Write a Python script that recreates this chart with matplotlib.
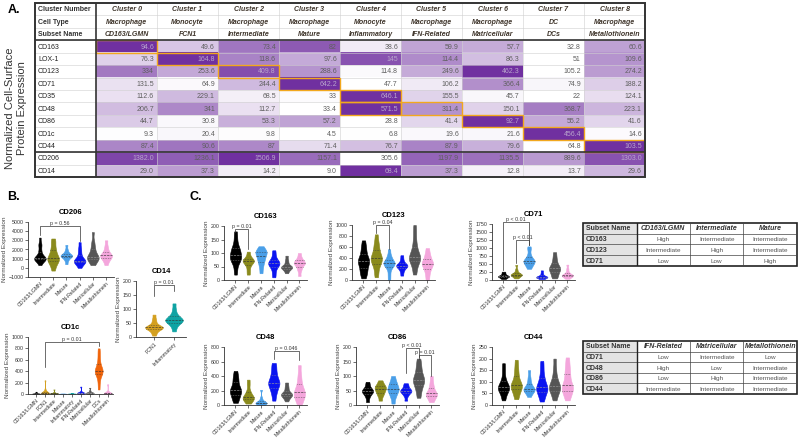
#Purpose: recreate the cell-surface protein figure (heatmap table + violin panels)

import numpy as np
import matplotlib.pyplot as plt
from matplotlib.colors import LinearSegmentedColormap, to_rgb
from matplotlib.patches import Rectangle

plt.rcParams['font.family'] = ['Liberation Sans', 'DejaVu Sans']

#---------------- data: panel A ----------------
markers = ['CD163', 'LOX-1', 'CD123', 'CD71', 'CD35', 'CD48', 'CD86', 'CD1c', 'CD44', 'CD206', 'CD14']
clusters = ['Cluster 0', 'Cluster 1', 'Cluster 2', 'Cluster 3', 'Cluster 4',
            'Cluster 5', 'Cluster 6', 'Cluster 7', 'Cluster 8']
cell_types = ['Macrophage', 'Monocyte', 'Macrophage', 'Macrophage', 'Monocyte',
              'Macrophage', 'Macrophage', 'DC', 'Macrophage']
subset_names = ['CD163/LGMN', 'FCN1', 'Intermediate', 'Mature', 'Inflammatory',
                'IFN-Related', 'Matricellular', 'DCs', 'Metallothionein']
expr = [
    [94.6, 49.6, 73.4, 82, 38.6, 59.9, 57.7, 32.8, 60.6],
    [76.3, 164.8, 118.6, 97.6, 145, 114.4, 86.3, 51, 109.6],
    [334, 253.6, 409.8, 288.6, 114.8, 249.6, 462.3, 105.2, 274.2],
    [131.5, 64.9, 244.4, 642.2, 47.7, 106.2, 366.4, 74.9, 188.2],
    [112.6, 229.1, 68.5, 33, 646.1, 155.5, 45.7, 22, 124.1],
    [206.7, 341, 112.7, 33.4, 571.5, 311.4, 150.1, 368.7, 223.1],
    [44.7, 30.8, 53.3, 57.2, 28.8, 41.4, 92.7, 55.2, 41.6],
    [9.3, 20.4, 9.8, 4.5, 6.8, 19.6, 21.6, 456.4, 14.6],
    [87.4, 90.6, 87, 71.4, 76.7, 87.9, 79.6, 64.8, 103.5],
    [1382.0, 1236.1, 1506.9, 1157.1, 305.6, 1197.9, 1135.5, 889.6, 1303.0],
    [29.0, 37.3, 14.2, 9.0, 68.4, 37.3, 12.8, 13.7, 29.6],
]
# (row, column) of the outlined marker cells
highlight = [(0, 0), (1, 1), (2, 2), (3, 3), (4, 4), (5, 4), (5, 5), (6, 6), (7, 7), (8, 8)]

#---------------- data: violin panels ----------------
mac_groups = ['CD163/LGMN', 'Intermediate', 'Mature', 'IFN-Related', 'Matricellular', 'Metallothionein']
mono_groups = ['FCN1', 'Inflammatory']
all_groups = ['CD163/LGMN', 'FCN1', 'Intermediate', 'Mature', 'Inflammatory',
              'IFN-Related', 'Matricellular', 'DCs', 'Metallothionein']

cd206_vals = [
    [300, 600, 800, 900, 950, 1000, 1000, 1050, 1100, 1200, 1400, 1700, 2000, 2500, 2600, 3300],
    [-300, 200, 500, 700, 900, 1000, 1100, 1300, 1600, 1900, 2300, 2800, 3200],
    [400, 800, 1000, 1200, 1250, 1300, 1350, 1400, 1500, 1700, 2000, 2500],
    [0, 300, 500, 600, 700, 750, 800, 900, 1100, 1400, 1800, 2200, 2800],
    [300, 600, 800, 1000, 1100, 1150, 1200, 1400, 1700, 2000, 2400, 2900, 3900],
    [300, 700, 900, 1100, 1200, 1300, 1400, 1500, 1700, 2000, 2400, 3000],
]
cd14_vals = [
    [5, 15, 22, 28, 30, 32, 34, 35, 37, 40, 45, 55, 65, 80],
    [20, 35, 45, 50, 55, 58, 60, 62, 65, 70, 75, 85, 100, 120],
]
cd1c_vals = [
    [0, 2, 4, 5, 6, 8, 10, 15, 25, 40],
    [0, 5, 10, 12, 15, 18, 20, 25, 40, 80, 240],
    [0, 3, 5, 8, 10, 12, 15, 30, 80],
    [0, 2, 3, 4, 5, 6, 8, 10],
    [0, 3, 5, 6, 7, 8, 10, 20],
    [0, 5, 10, 15, 18, 20, 25, 40, 130],
    [0, 5, 10, 15, 20, 22, 25, 35, 60, 110],
    [80, 200, 300, 350, 380, 400, 410, 430, 460, 520, 600, 700, 800],
    [0, 5, 10, 12, 15, 20, 40, 170],
]
cd163_vals = [
    [20, 40, 60, 70, 75, 80, 85, 90, 95, 105, 110, 115, 125, 140, 160, 180],
    [20, 35, 50, 60, 65, 70, 72, 75, 80, 90, 105],
    [25, 45, 60, 70, 80, 85, 95, 100, 103, 108, 115, 125],
    [10, 25, 40, 50, 55, 60, 63, 67, 72, 80, 95, 110],
    [25, 35, 40, 45, 47, 48, 50, 55, 65, 75, 90],
    [15, 35, 45, 55, 60, 62, 65, 70, 75, 85, 100],
]
cd123_vals = [
    [30, 100, 150, 200, 250, 300, 330, 350, 380, 420, 480, 550, 620, 720],
    [50, 150, 250, 300, 350, 380, 400, 430, 480, 550, 620, 700, 830],
    [0, 100, 200, 250, 280, 300, 310, 320, 350, 400, 450, 560],
    [80, 150, 200, 230, 250, 260, 270, 290, 320, 380, 450],
    [100, 200, 300, 350, 380, 400, 420, 460, 520, 600, 700, 850, 1000],
    [0, 100, 180, 230, 280, 300, 320, 360, 420, 480, 580],
]
cd71_vals = [
    [30, 60, 80, 100, 110, 120, 130, 150, 180, 220, 260],
    [50, 90, 120, 150, 160, 170, 180, 200, 250, 330, 470],
    [350, 430, 480, 530, 560, 590, 610, 650, 700, 800, 950, 1050],
    [30, 50, 70, 85, 95, 100, 110, 130, 170, 230, 300],
    [50, 120, 200, 260, 320, 350, 380, 430, 500, 600, 720, 870],
    [40, 80, 110, 130, 145, 150, 160, 190, 250, 350, 480],
]
cd48_vals = [
    [30, 80, 120, 150, 180, 200, 220, 250, 300, 350, 400, 470],
    [20, 50, 70, 90, 100, 110, 130, 160, 200, 280, 350],
    [0, 10, 20, 25, 30, 35, 40, 60, 100, 210],
    [60, 150, 200, 250, 280, 300, 320, 350, 400, 450, 520, 580],
    [50, 90, 110, 130, 140, 150, 160, 180, 220, 260, 310],
    [0, 60, 100, 130, 160, 180, 210, 260, 330, 420, 550],
]
cd86_vals = [
    [10, 25, 35, 40, 45, 48, 50, 55, 60, 70, 80],
    [15, 30, 38, 45, 50, 55, 60, 63, 68, 75, 85],
    [5, 25, 35, 45, 50, 55, 60, 68, 75, 85, 100],
    [15, 30, 38, 43, 46, 48, 52, 55, 60, 68, 75],
    [25, 45, 60, 70, 80, 85, 90, 100, 110, 125, 140, 160],
    [10, 20, 28, 33, 37, 40, 45, 55, 65, 80, 100],
]
cd44_vals = [
    [20, 40, 55, 65, 70, 75, 80, 90, 100, 120, 150, 180],
    [25, 45, 60, 70, 80, 85, 90, 100, 120, 140, 165, 195],
    [35, 50, 58, 63, 67, 70, 75, 85, 100, 120, 150],
    [15, 35, 50, 60, 70, 75, 80, 95, 110, 130, 160, 190],
    [20, 40, 55, 65, 72, 78, 85, 95, 110, 130, 160, 200],
    [20, 40, 55, 65, 75, 80, 90, 110, 130, 150, 175, 205],
]

# significance brackets: (group i, group j, bracket height, left leg end, right leg end, text)
cd206_p = [(0, 3, 4600, 3600, 2900, 'p = 0.56')]
cd14_p = [(0, 1, 185, 145, 165, 'p = 0.01')]
cd1c_p = [(1, 7, 920, 470, 840, 'p = 0.01')]
cd163_p = [(0, 1, 190, 178, 115, 'p = 0.01')]
cd123_p = [(1, 2, 1000, 850, 570, 'p = 0.04')]
cd71_p = [(0, 2, 1800, 300, 1100, 'p < 0.01'), (1, 2, 1250, 520, 1100, 'p < 0.01')]
cd48_p = [(3, 5, 740, 640, 620, 'p = 0.046')]
cd86_p = [(3, 4, 195, 110, 160, 'p < 0.01'), (4, 5, 172, 165, 100, 'p = 0.01')]
cd44_p = []

# subset summary tables
tab1_header = ['Subset Name', 'CD163/LGMN', 'Intermediate', 'Mature']
tab1_rows = ['CD163', 'CD123', 'CD71']
tab1_body = [['High', 'Intermediate', 'Intermediate'],
             ['Intermediate', 'High', 'Intermediate'],
             ['Low', 'Low', 'High']]
tab2_header = ['Subset Name', 'IFN-Related', 'Matricellular', 'Metallothionein']
tab2_rows = ['CD71', 'CD48', 'CD86', 'CD44']
tab2_body = [['Low', 'Intermediate', 'Low'],
             ['High', 'Low', 'Intermediate'],
             ['Low', 'High', 'Intermediate'],
             ['Intermediate', 'Intermediate', 'Intermediate']]

#---------------- colours ----------------
col = {'CD163/LGMN': '#000000', 'Intermediate': '#8a8a1c', 'Mature': '#4a9fe8',
       'IFN-Related': '#0a14f0', 'Matricellular': '#555555', 'Metallothionein': '#f4a6dc',
       'FCN1': '#d4a020', 'Inflammatory': '#0fa3a3', 'DCs': '#f0640a'}
purple = LinearSegmentedColormap.from_list('pur', ['#ffffff', '#7030a0'])

W, H = 799, 444
fig = plt.figure(figsize=(7.99, 4.44), dpi=100)


def px_axes(x0, y0, x1, y1):
    return fig.add_axes([x0 / W, 1 - y1 / H, (x1 - x0) / W, (y1 - y0) / H])


def px_text(x, y, s, **kw):
    fig.text(x / W, 1 - y / H, s, **kw)


#---------------- panel A: heatmap table ----------------
ax = px_axes(35, 3, 645, 177)
rgb = np.zeros((len(markers), len(clusters), 3))
norm_all = []
for r, row in enumerate(expr):
    row = np.array(row)
    nr = (row - row.min()) / (row.max() - row.min())
    norm_all.append(nr)
    rgb[r] = purple(nr)[:, :3]
ax.imshow(rgb, extent=(1, 10, 14, 3), aspect='auto', interpolation='nearest', zorder=0)
ax.set_xlim(0, 10)
ax.set_ylim(14, 0)
ax.axis('off')

for y in range(1, 14):
    ax.plot([0, 10], [y, y], color='#d0d0d0', lw=0.4, zorder=1)
for x in range(2, 10):
    ax.plot([x, x], [0, 14], color='#d0d0d0', lw=0.4, zorder=1)
for y in (3, 12):
    ax.plot([0, 10], [y, y], color='#333333', lw=1.2, zorder=4)
ax.plot([1, 1], [0, 14], color='#333333', lw=1.2, zorder=4)
ax.add_patch(Rectangle((0, 0), 10, 14, fill=False, ec='#333333', lw=1.4, zorder=5, clip_on=False))

for r, c in highlight:
    ax.add_patch(Rectangle((c + 1, r + 3), 1, 1, fill=False, ec='#f2a81d', lw=1.0, zorder=3))

for i, lab in enumerate(['Cluster Number', 'Cell Type', 'Subset Name']):
    ax.text(0.05, i + 0.55, lab, fontsize=5, fontweight='bold', color='#333333', va='center')
for c in range(len(clusters)):
    for i, lab in enumerate([clusters[c], cell_types[c], subset_names[c]]):
        ax.text(c + 1.5, i + 0.55, lab, fontsize=5, fontweight='bold', fontstyle='italic',
                color='#3e342a', ha='center', va='center')
for r, m in enumerate(markers):
    ax.text(0.05, r + 3.55, m, fontsize=5, color='#222222', va='center')
    for c, v in enumerate(expr[r]):
        s = f'{v:.1f}' if r >= 9 else f'{v:g}'
        tc = '#b9a6cc' if norm_all[r][c] > 0.8 else '#5f5f5f'
        ax.text(c + 1.95, r + 3.55, s, fontsize=5, color=tc, ha='right', va='center', zorder=6)

px_text(8, 10, 'A.', fontsize=9, fontweight='bold', va='center')
px_text(16, 108, 'Normalized Cell-Surface\nProtein Expression', fontsize=8, color='#333333',
        rotation=90, ha='center', va='center', multialignment='center')
px_text(7, 197, 'B.', fontsize=9, fontweight='bold', va='center')
px_text(190, 197, 'C.', fontsize=9, fontweight='bold', va='center')


#---------------- violin panels ----------------
def draw_violins(box, data, groups, yticks, title, brackets):
    ax = px_axes(*box)
    n = len(data)
    parts = ax.violinplot(data, positions=np.arange(n), widths=0.88,
                          showextrema=False, bw_method=0.35)
    for i, body in enumerate(parts['bodies']):
        c = col[groups[i]]
        body.set_facecolor(c)
        body.set_edgecolor(c)
        body.set_alpha(1)
        body.set_linewidth(0.4)
        body.set_clip_on(False)
        verts = body.get_paths()[0].vertices
        right = verts[verts[:, 0] > i]
        order = np.argsort(right[:, 1])
        lum = np.dot(to_rgb(c), [0.299, 0.587, 0.114])
        lc = '#9a9a9a' if lum < 0.4 else '#333333'
        q1, med, q3 = np.percentile(data[i], [25, 50, 75])
        for q, ls in ((q1, ':'), (med, '--'), (q3, ':')):
            hw = np.interp(q, right[order, 1], right[order, 0]) - i
            ax.plot([i - hw, i + hw], [q, q], color=lc, lw=0.45, ls=ls)
    for i, j, yt, yl, yr, s in brackets:
        ax.plot([i, i, j, j], [yl, yt, yt, yr], color='#333333', lw=0.5, clip_on=False)
        ax.text((i + j) / 2, yt, s, fontsize=3.8, ha='center', va='bottom', color='#333333')
    ax.set_xlim(-0.9, n - 0.4)
    ax.set_ylim(yticks[0], yticks[-1])
    ax.set_yticks(yticks)
    ax.set_xticks(np.arange(n))
    ax.set_xticklabels(groups, rotation=45, ha='right', rotation_mode='anchor')
    ax.tick_params(labelsize=3.8, length=2, width=0.5, pad=1, colors='#333333')
    for sp in ('top', 'right'):
        ax.spines[sp].set_visible(False)
    for sp in ('left', 'bottom'):
        ax.spines[sp].set_linewidth(0.6)
        ax.spines[sp].set_color('#333333')
    ax.set_title(title, fontsize=5.5, fontweight='bold', pad=6)
    ax.set_ylabel('Normalized Expression', fontsize=4.6, color='#444444', labelpad=1)
    return ax


draw_violins((28, 222, 114, 277), cd206_vals, mac_groups, [-1000, 0, 1000, 2000, 3000, 4000, 5000], 'CD206', cd206_p)
draw_violins((136, 281, 186, 337), cd14_vals, mono_groups, [0, 50, 100, 150, 200], 'CD14', cd14_p)
draw_violins((28, 337, 113, 394), cd1c_vals, all_groups, [0, 200, 400, 600, 800, 1000], 'CD1c', cd1c_p)

draw_violins((224, 226, 307, 280), cd163_vals, mac_groups, [0, 50, 100, 150, 200], 'CD163', cd163_p)
draw_violins((352, 225, 435, 280), cd123_vals, mac_groups, [0, 200, 400, 600, 800, 1000], 'CD123', cd123_p)
draw_violins((492, 224, 575, 280), cd71_vals, mac_groups, [0, 250, 500, 750, 1000, 1250, 1500, 1750], 'CD71', cd71_p)

draw_violins((224, 347, 307, 405), cd48_vals, mac_groups, [0, 200, 400, 600, 800], 'CD48', cd48_p)
draw_violins((356, 347, 439, 405), cd86_vals, mac_groups, [0, 50, 100, 150, 200], 'CD86', cd86_p)
draw_violins((492, 347, 575, 405), cd44_vals, mac_groups, [0, 50, 100, 150, 200, 250], 'CD44', cd44_p)


#---------------- subset tables ----------------
def draw_table(box, header, rows, body):
    ax = px_axes(*box)
    n = len(rows) + 1
    ax.set_xlim(0, 4)
    ax.set_ylim(n, 0)
    ax.axis('off')
    ax.add_patch(Rectangle((0, 0), 1, n, facecolor='#e3e3e3', edgecolor='none'))
    for y in range(1, n):
        ax.plot([0, 4], [y, y], color='#444444', lw=0.5)
    for x in (2, 3):
        ax.plot([x, x], [0, n], color='#444444', lw=0.5)
    ax.plot([1, 1], [0, n], color='#222222', lw=1.0)
    ax.add_patch(Rectangle((0, 0), 4, n, fill=False, ec='#222222', lw=1.2, clip_on=False))
    ax.text(0.05, 0.55, header[0], fontsize=5, fontweight='bold', color='#333333', va='center')
    for k in range(1, 4):
        ax.text(k + 0.5, 0.55, header[k], fontsize=5, fontweight='bold', fontstyle='italic',
                color='#333333', ha='center', va='center')
    for r, lab in enumerate(rows):
        ax.text(0.05, r + 1.55, lab, fontsize=5, fontweight='bold', color='#333333', va='center')
        for k, s in enumerate(body[r]):
            ax.text(k + 1.5, r + 1.55, s, fontsize=4.6, color='#555555', ha='center', va='center')


draw_table((583, 223, 797, 266), tab1_header, tab1_rows, tab1_body)
draw_table((583, 341, 797, 394), tab2_header, tab2_rows, tab2_body)

plt.savefig('out.png', dpi=100)
